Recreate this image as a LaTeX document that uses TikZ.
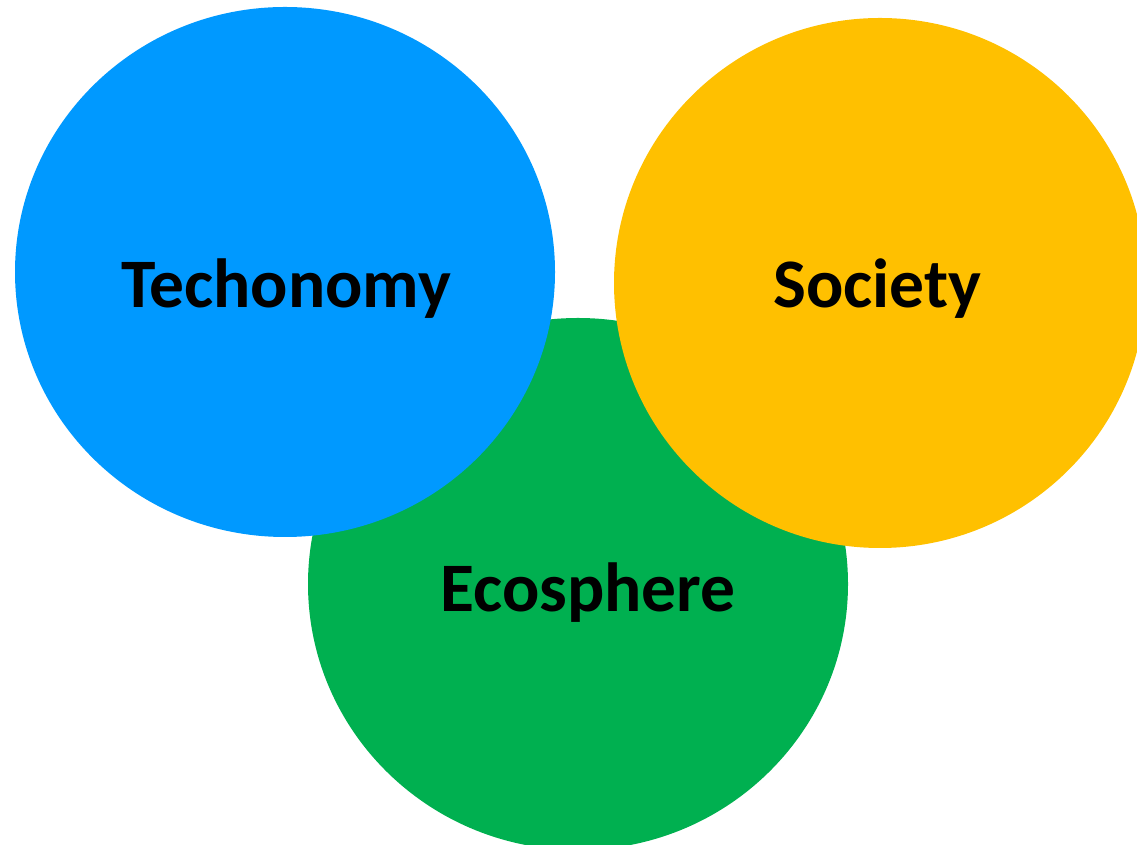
\documentclass[tikz,border=0pt]{standalone}
\usepackage{fontspec}
\setmainfont{Carlito}
\definecolor{cblue}{RGB}{0,153,255}
\definecolor{cyellow}{RGB}{255,192,0}
\definecolor{cgreen}{RGB}{0,176,80}
\begin{document}
\begin{tikzpicture}[x=1pt,y=1pt,
  lbl/.style={font=\fontsize{69.5}{80}\selectfont\bfseries, text=black, anchor=base, inner sep=0pt}]
\useasboundingbox (0,0) rectangle (1137,845);
\begin{scope}
\clip (0,0) rectangle (1137,845);
\fill[cgreen] (578,261) ellipse [x radius=270, y radius=266];
\fill[cblue] (285,573) ellipse [x radius=270, y radius=265];
\fill[cyellow] (880,562) ellipse [x radius=266, y radius=265];
\end{scope}
\node[lbl] (tech) at (286,537) {Techonomy};
\node[lbl] (soc) at (877.5,537) {Society};
\node[lbl] (eco) at (588,233) {Ecosphere};
\end{tikzpicture}
\end{document}
